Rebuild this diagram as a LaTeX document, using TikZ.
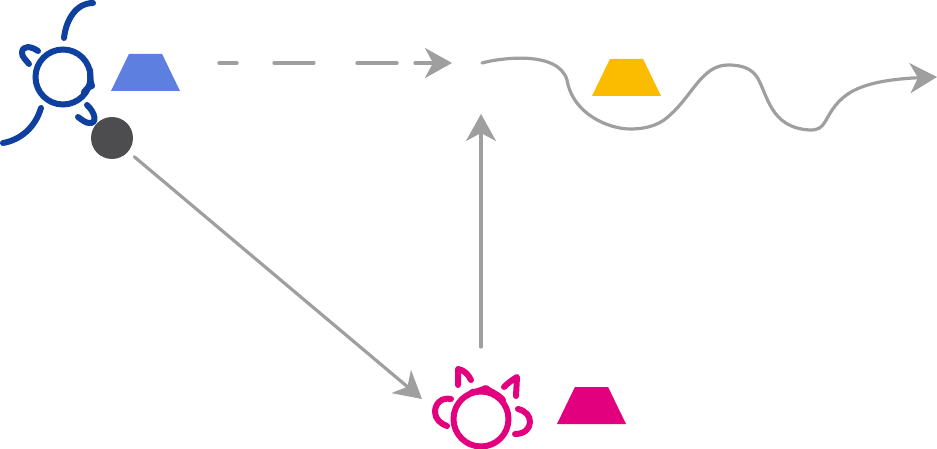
\documentclass[tikz,border=0pt]{standalone}
\usepackage{tikz}
\usetikzlibrary{arrows.meta, shapes.geometric}
\definecolor{flowGray}{HTML}{9F9F9F}
\definecolor{ballGray}{HTML}{4D4D4F}
\definecolor{senderBlue}{HTML}{0F3F9F}
\definecolor{hatBlue}{HTML}{5C7FE0}
\definecolor{hatPink}{HTML}{E3007E}
\definecolor{hatYellow}{HTML}{FBBC00}
\tikzset{
	flow/.style={draw=flowGray, line width=3.2pt, line cap=round, -{Stealth[length=27pt, width=30pt, inset=8pt]}},
	hat/.style={trapezium, trapezium stretches=true, trapezium left angle=61.6, trapezium right angle=61.6, minimum width=69pt, minimum height=37pt, inner sep=1pt, outer sep=0pt, fill=#1},
	head/.style={circle, draw=#1, line width=6pt, minimum size=55pt, inner sep=0pt},
	limb/.style={draw=#1, line width=6pt, line cap=round, line join=round},
}
\begin{document}
\begin{tikzpicture}[x=1pt, y=-1pt]
\useasboundingbox (0,0) rectangle (937,449);

% Hats
\node[hat=hatBlue] (hatSender) at (145.5,72.5) {};
\node[hat=hatYellow] (hatWave) at (626.5,77.5) {};
\node[hat=hatPink] (hatReceiver) at (591.5,405.5) {};

% Sender figure
\node[head=senderBlue] (headSender) at (63,77) {};
\draw[limb=senderBlue] (90,70) .. controls (90,76) and (90,80) .. (92,86) .. controls (88,87) and (86,89) .. (84,92);
\draw[limb=senderBlue] (64,38) .. controls (66,20) and (76,3) .. (93,3);
\draw[limb=senderBlue] (38,51) .. controls (31,46) and (22,45) .. (22,53) .. controls (22,57) and (26,60) .. (29,64);
\draw[limb=senderBlue] (41,108) .. controls (35,128) and (20,140) .. (3,143);
\draw[limb=senderBlue] (87,105) .. controls (95,112) and (98,124) .. (89,123) .. controls (86,123) and (82,120) .. (78,117);
\node[circle, fill=ballGray, minimum size=42pt, inner sep=0pt] (ball) at (112,138) {};

% Receiver figure
\node[head=hatPink] (headReceiver) at (481,419) {};
\draw[limb=hatPink] (472,392) .. controls (477,392) and (481,390) .. (486,388) .. controls (490,392) and (497,393) .. (503,400);
\draw[limb=hatPink] (458,385) -- (458,369) .. controls (464,370) and (468,374) .. (471,380);
\draw[limb=hatPink] (504,387) .. controls (508,383) and (512,380) .. (517,377) -- (516,396);
\draw[limb=hatPink] (451,399) .. controls (441,397) and (435,404) .. (435,412) .. controls (435,419) and (441,424) .. (447,426);
\draw[limb=hatPink] (518,409) .. controls (526,411) and (530,416) .. (530,422) .. controls (530,429) and (524,434) .. (515,434);

% Flows
\coordinate (dashStart) at (219,63);
\coordinate (dashEnd) at (452,63);
\coordinate (replyStart) at (481,347);
\coordinate (replyEnd) at (481,114);
\coordinate (receiverIn) at (422,399);
\coordinate (waveStart) at (482,63);
\coordinate (waveEnd) at (937,77);
\draw[flow, dash pattern=on 18pt off 37pt on 40pt off 43pt on 40pt off 18pt on 40pt] (dashStart) -- (dashEnd);
\draw[flow, shorten <=8pt] (ball) -- (receiverIn);
\draw[flow] (replyStart) -- (replyEnd);
\draw[flow] (waveStart) .. controls (500,58) and (558,50) .. (567,80)
	.. controls (573,115) and (610,129) .. (630,129)
	.. controls (650,129) and (662,123) .. (670,115)
	.. controls (692,96) and (702,65) .. (728,65)
	.. controls (745,65) and (752,70) .. (757,77)
	.. controls (768,95) and (770,128) .. (810,130)
	.. controls (818,130) and (821,128) .. (825,122)
	.. controls (838,98) and (850,82) .. (913,78) -- (waveEnd);
\end{tikzpicture}
\end{document}
